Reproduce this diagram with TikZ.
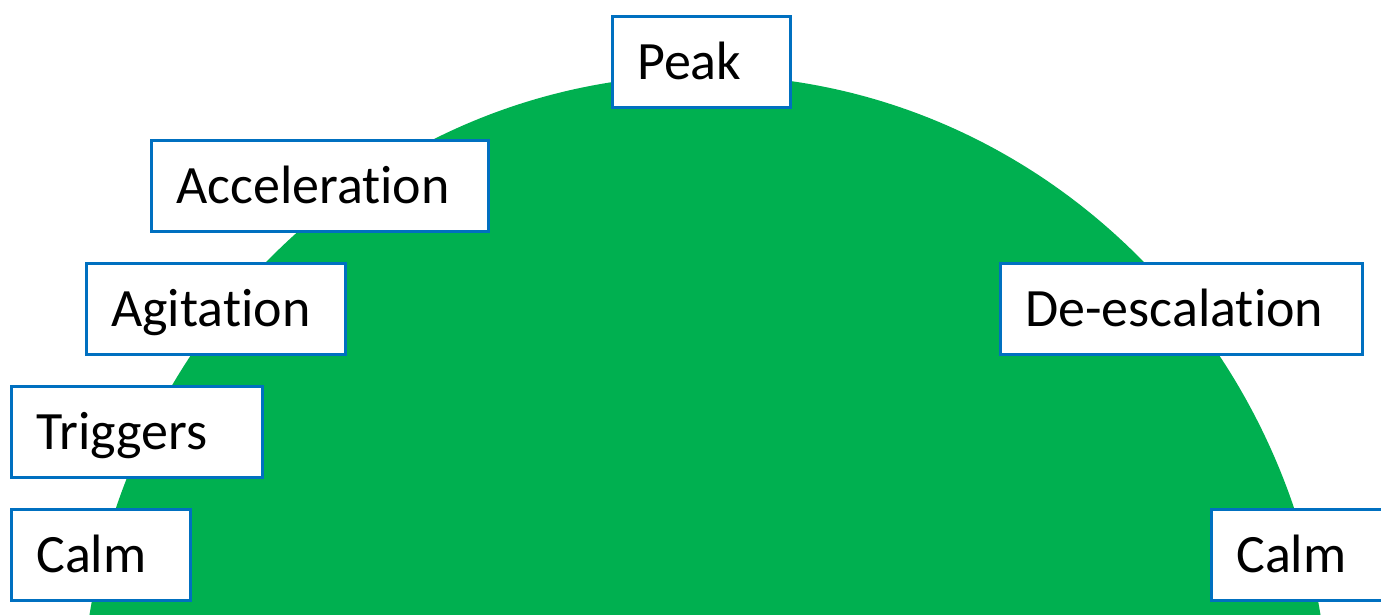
\documentclass[tikz,border=0pt]{standalone}
\usepackage{fontspec}
\setmainfont[Ligatures={NoCommon}]{Carlito}
\definecolor{hillgreen}{HTML}{00B050}
\definecolor{boxblue}{HTML}{0070C0}
\begin{document}
\begin{tikzpicture}[x=1pt,y=-1pt,
  stagebox/.style={draw=boxblue, line width=2.5pt, fill=white,
    anchor=north west, minimum height=91pt, inner xsep=25pt, inner ysep=0pt,
    align=left, text height=40pt, text depth=4pt,
    font=\fontsize{54}{60}\selectfont}]
  \useasboundingbox (0,0) rectangle (1381,614);
  \clip (0,0) rectangle (1381,614);
  % the hill of the escalation cycle
  \fill[hillgreen] (705,722) ellipse [x radius=624, y radius=647];
  % stage labels
  \node[stagebox, text width=128pt] (peak)  at (611,15)  {Peak};
  \node[stagebox, text width=287pt] (accel) at (150,139) {Acceleration};
  \node[stagebox, text width=209pt] (agit)  at (85,262)  {Agitation};
  \node[stagebox, text width=201pt] (trig)  at (10,385)  {Triggers};
  \node[stagebox, text width=129pt] (calmA) at (10,508)  {Calm};
  \node[stagebox, text width=312pt] (desc)  at (999,262) {De-escalation};
  \node[stagebox, text width=170pt] (calmB) at (1210,508) {Calm};
\end{tikzpicture}
\end{document}
